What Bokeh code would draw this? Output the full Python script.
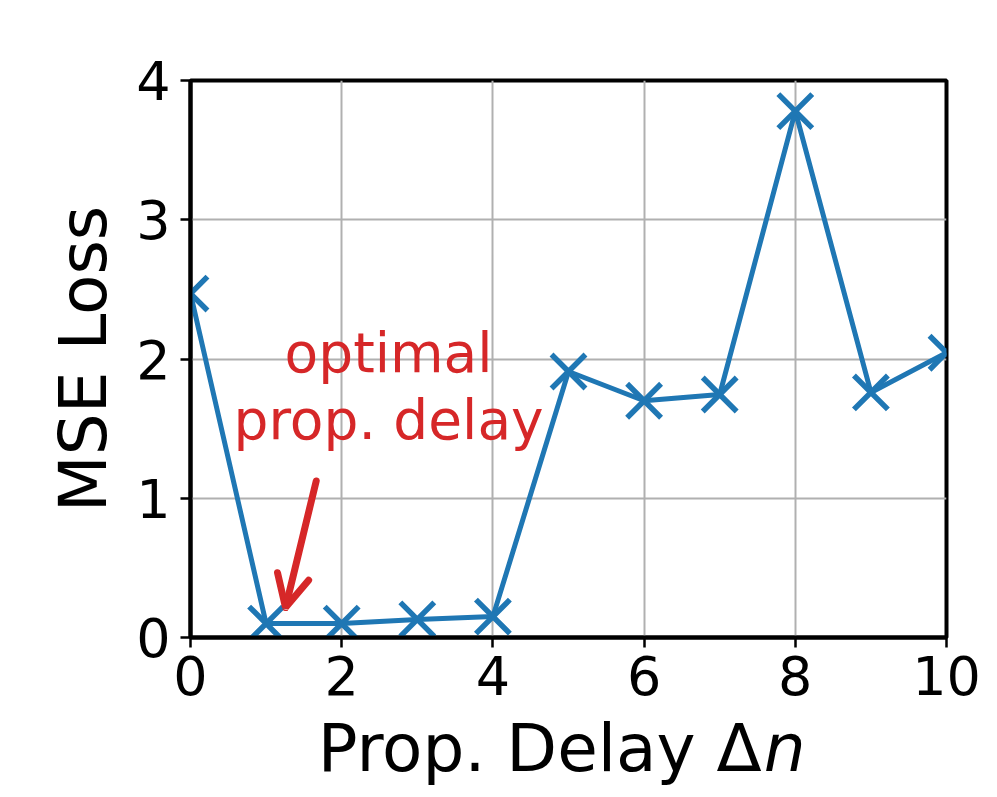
from bokeh.plotting import figure
from bokeh.models import Range1d, FixedTicker, Label, Arrow, OpenHead, LinearAxis
from bokeh.embed import file_html
from bokeh.resources import INLINE

# ---- data ----
delay = [0, 1, 2, 3, 4, 5, 6, 7, 8, 9, 10]
mse_loss = [2.47, 0.10, 0.10, 0.13, 0.15, 1.91, 1.70, 1.745, 3.78, 1.76, 2.045]
x_ticks = [0, 2, 4, 6, 8, 10]
y_ticks = [0, 1, 2, 3, 4]
annot_lines = ["optimal", "prop. delay"]
annot_x = 2.62
annot_y = [2.045, 1.565]
arrow_start = (1.663, 1.124)
arrow_end = (1.257, 0.215)
xlabel_main = "Prop. Delay Δ"
xlabel_italic = "n"
xlabel_main_pos = 4.62
xlabel_italic_pos = 7.86
ylabel = "MSE Loss"

FONT = "DejaVu Sans"
BLUE = "#1f77b4"
RED = "#d62728"

p = figure(frame_width=756, frame_height=557,
           x_range=Range1d(0, 10), y_range=Range1d(0, 4),
           output_backend="svg", toolbar_location=None,
           min_border_left=190, min_border_top=80,
           min_border_right=45, min_border_bottom=10,
           background_fill_color="white", border_fill_color="white")

p.outline_line_color = "black"
p.outline_line_width = 4
p.outline_line_alpha = 1

p.xaxis.ticker = FixedTicker(ticks=x_ticks)
p.yaxis.ticker = FixedTicker(ticks=y_ticks)
for ax in (p.xaxis, p.yaxis):
    ax.axis_line_width = 4
    ax.axis_line_color = "black"
    ax.major_tick_out = 10
    ax.major_tick_in = 0
    ax.major_tick_line_width = 2.5
    ax.major_tick_line_color = "black"
    ax.minor_tick_out = 0
    ax.minor_tick_in = 0
    ax.major_label_text_font = FONT
    ax.major_label_text_font_size = "54px"
    ax.major_label_text_color = "black"

p.xaxis.major_label_standoff = 8
p.yaxis.major_label_standoff = 10

p.yaxis.axis_label = ylabel
p.yaxis.axis_label_text_font = FONT
p.yaxis.axis_label_text_font_size = "66px"
p.yaxis.axis_label_text_font_style = "normal"
p.yaxis.axis_label_text_color = "black"
p.yaxis.axis_label_standoff = 11

p.xgrid.grid_line_color = "#b0b0b0"
p.ygrid.grid_line_color = "#b0b0b0"
p.xgrid.grid_line_width = 2
p.ygrid.grid_line_width = 2


def label_axis(pos, text, style, standoff):
    ax = LinearAxis(ticker=FixedTicker(ticks=[pos]),
                    major_label_overrides={pos: text, str(pos): text})
    ax.axis_line_alpha = 0
    ax.major_tick_out = 0
    ax.major_tick_in = 0
    ax.minor_tick_out = 0
    ax.minor_tick_in = 0
    ax.major_label_standoff = standoff
    ax.major_label_text_font = FONT
    ax.major_label_text_font_size = "66px"
    ax.major_label_text_font_style = style
    ax.major_label_text_color = "black"
    p.add_layout(ax, "below")
    return ax


# x-axis label "Prop. Delay Δn" with an italic n
label_axis(xlabel_main_pos, xlabel_main, "normal", 12)
label_axis(xlabel_italic_pos, xlabel_italic, "italic", -80)

p.line(delay, mse_loss, line_color=BLUE, line_width=5)
p.scatter(delay, mse_loss, marker="x", size=48, line_color=BLUE, line_width=5.5)

# annotation
for t, yy in zip(annot_lines, annot_y):
    p.add_layout(Label(x=annot_x, y=yy, text=t, text_align="center",
                       text_baseline="alphabetic", text_font=FONT,
                       text_font_size="55px", text_color=RED))

p.add_layout(Arrow(end=OpenHead(line_color=RED, line_width=7, size=32, line_cap="round"),
                   x_start=arrow_start[0], y_start=arrow_start[1],
                   x_end=arrow_end[0], y_end=arrow_end[1],
                   line_color=RED, line_width=7, line_cap="round"))

open("out.html", "w").write(file_html(p, INLINE))
